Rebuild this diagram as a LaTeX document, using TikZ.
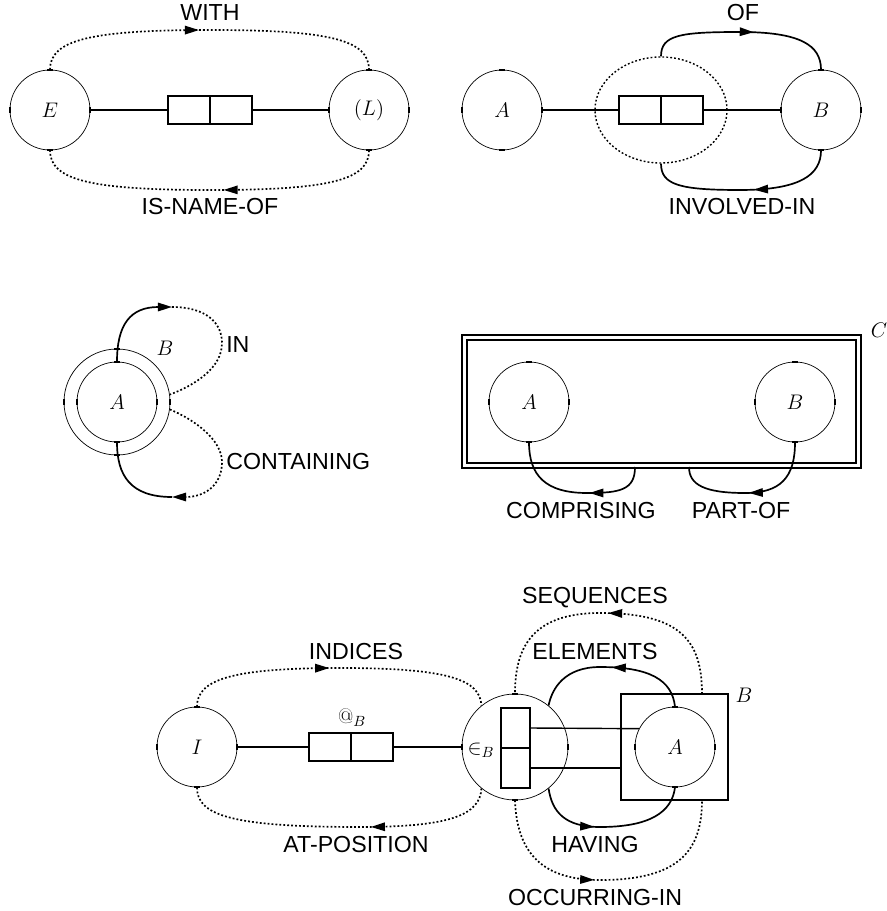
\documentclass[tikz,border=0pt]{standalone}
\usepackage{fix-cm}
\usepackage{fontspec}
\newfontfamily\lblfont{Liberation Sans}
\usetikzlibrary{arrows.meta,decorations.markings,shapes.geometric}
\newcommand{\mfont}{\fontsize{15}{17}\selectfont}
\newcommand{\lfont}{\lblfont\fontsize{16.5}{19}\selectfont}
\newcommand{\ticks}[1]{%
	\foreach \side in {north,south}
		\draw[line width=1.4pt] ([xshift=-0.07cm]#1.\side) -- ([xshift=0.07cm]#1.\side);
	\foreach \side in {east,west}
		\draw[line width=1.4pt] ([yshift=-0.07cm]#1.\side) -- ([yshift=0.07cm]#1.\side);
}

\begin{document}
\begin{tikzpicture}[x=0.025cm, y=-0.025cm,
	ent/.style={circle, draw, line width=0.5pt, minimum size=2cm, inner sep=0pt, font=\mfont},
	role/.style={draw, line width=1.4pt, minimum width=1.05cm, minimum height=0.7cm, inner sep=0pt},
	cell/.style={draw, line width=1.4pt, minimum width=0.72cm, minimum height=1cm, inner sep=0pt},
	link/.style={line width=1pt},
	rel/.style={line width=1.2pt, postaction={decorate}, decoration={markings, mark=at position #1 with {\arrow{Triangle[length=10pt,width=6pt]}}}},
	tip/.style={line width=1.2pt, -{Triangle[length=10pt,width=6pt]}},
	dots/.style={dash pattern=on 1.3pt off 1.5pt},
	lbl/.style={font=\lfont, inner sep=0pt},
	mlbl/.style={font=\mfont, inner sep=0pt}]
			\useasboundingbox (0,0) rectangle (886,911);

			\node[ent] (e) at (50,110) {$E$};
			\node[ent] (l) at (369,110) {$(L)$};
			\node[role] (r1) at (189,110) {};
			\node[role] (r2) at (231,110) {};
			\draw[link] (e) -- (r1);
			\draw[link] (r2) -- (l);
			\draw[rel=0.47, dots] (e.north) .. controls (50,40) and (90,30) .. (210,30) .. controls (330,30) and (369,40) .. (l.north);
			\draw[rel=0.46, dots] (l.south) .. controls (369,180) and (330,190) .. (210,190) .. controls (90,190) and (50,180) .. (e.south);
			\node[lbl] (with) at (210,13) {WITH};
			\node[lbl] (isnameof) at (210,207) {IS-NAME-OF};

			\node[ent] (a1) at (502,110) {$A$};
			\node[ent] (b1) at (821,110) {$B$};
			\node[ellipse, draw, line width=1pt, dots, minimum width=3.3cm, minimum height=2.65cm, inner sep=0pt] (inv) at (661,110) {};
			\node[role] (r3) at (640,110) {};
			\node[role] (r4) at (682,110) {};
			\draw[link] (a1) -- (r3);
			\draw[link] (r4) -- (b1);
			\draw[rel=0.55] (inv.north) .. controls (661,35) and (680,32) .. (740,32) .. controls (800,32) and (821,45) .. (b1.north);
			\draw[rel=0.45] (b1.south) .. controls (821,175) and (800,190) .. (740,190) .. controls (680,190) and (661,185) .. (inv.south);
			\node[lbl] (of) at (743,13) {OF};
			\node[lbl] (involvedin) at (742,207) {INVOLVED-IN};

			\node[ent, minimum size=2.65cm] (b2) at (117,402) {};
			\node[ent] (a2) at (117,402) {$A$};
			\node[mlbl] (b2lbl) at (165,348) {$B$};
			\coordinate (intop) at (172,307);
			\coordinate (conbot) at (172,497);
			\draw[tip] (a2.north) .. controls (117,325) and (130,307) .. (intop);
			\draw[line width=1.2pt, dots] (intop) .. controls (205,307) and (222,322) .. (222,343) .. controls (222,368) and (195,385) .. (b2.8);
			\draw[tip, dots] (b2.-8) .. controls (195,420) and (222,440) .. (222,462) .. controls (222,485) and (205,497) .. (conbot);
			\draw[line width=1.2pt] (conbot) .. controls (130,497) and (117,475) .. (a2.south);
			\node[lbl, anchor=west] (in) at (226,345) {IN};
			\node[lbl, anchor=west] (containing) at (226,462) {CONTAINING};

			\node[draw, double, double distance=2.6pt, line width=0.9pt, minimum width=9.85cm, minimum height=3.2cm, inner sep=0pt] (c) at (661.5,401.5) {};
			\node[mlbl] (clbl) at (879,330) {$C$};
			\node[ent] (a3) at (529,402) {$A$};
			\node[ent] (b3) at (795,402) {$B$};
			\coordinate (cmp) at (635,467);
			\coordinate (pof) at (689,467);
			\draw[rel=0.4] (cmp) .. controls (635,490) and (620,493) .. (587,493) .. controls (545,493) and (529,475) .. (a3.south);
			\draw[rel=0.52] (b3.south) .. controls (795,478) and (780,493) .. (745,493) .. controls (705,493) and (689,485) .. (pof);
			\node[lbl] (comprising) at (581,511) {COMPRISING};
			\node[lbl] (partof) at (741,511) {PART-OF};

			\node[ent] (i) at (197,747) {$I$};
			\node[ent, minimum size=2.65cm] (eb) at (515,747) {};
			\node[mlbl] (eblbl) at (481,750) {$\in_B$};
			\node[cell] (s1) at (515.5,728) {};
			\node[cell] (s2) at (515.5,768) {};
			\node[role] (r5) at (330,747) {};
			\node[role] (r6) at (372,747) {};
			\node[mlbl] (atb) at (352,718) {$@_B$};
			\draw[link] (i) -- (r5);
			\draw[link] (r6) -- (eb);
			\node[draw, line width=1.4pt, minimum width=2.675cm, minimum height=2.65cm, inner sep=0pt] (bsq) at (674.5,747) {};
			\node[mlbl] (bsqlbl) at (744,695) {$B$};
			\node[ent] (a4) at (675,747) {$A$};
			\draw[line width=1pt] (s1.east) -- (a4.153);
			\draw[line width=1.6pt] (s2.east) -- (s2.east -| bsq.west);
			\coordinate (sqtop) at (702,694);
			\coordinate (sqbot) at (702,800);
			\draw[rel=0.47, dots] (i.north) .. controls (197,680) and (230,668) .. (340,668) .. controls (450,668) and (480,680) .. (eb.129);
			\draw[rel=0.4, dots] (eb.-129) .. controls (480,815) and (450,827) .. (360,827) .. controls (230,827) and (197,815) .. (i.south);
			\draw[rel=0.5, dots] (sqtop) .. controls (702,640) and (680,613) .. (600,613) .. controls (530,613) and (515,650) .. (eb.north);
			\draw[rel=0.5] (a4.north) .. controls (672,680) and (650,667) .. (600,667) .. controls (565,667) and (552,688) .. (eb.51);
			\draw[rel=0.4] (eb.-51) .. controls (552,812) and (565,827) .. (600,827) .. controls (650,827) and (672,812) .. (a4.south);
			\draw[rel=0.45, dots] (eb.south) .. controls (517,860) and (550,880) .. (600,880) .. controls (680,880) and (702,850) .. (sqbot);
			\node[lbl] (indices) at (356,652) {INDICES};
			\node[lbl] (atposition) at (356,845) {AT-POSITION};
			\node[lbl] (sequences) at (595,598) {SEQUENCES};
			\node[lbl] (elements) at (595,652) {ELEMENTS};
			\node[lbl] (having) at (595,845) {HAVING};
			\node[lbl] (occurringin) at (595,898) {OCCURRING-IN};

			\ticks{e}
			\ticks{l}
			\ticks{a1}
			\ticks{b1}
			\ticks{a2}
			\ticks{b2}
			\ticks{a3}
			\ticks{b3}
			\ticks{i}
			\ticks{eb}
			\ticks{a4}
\end{tikzpicture}
\end{document}
